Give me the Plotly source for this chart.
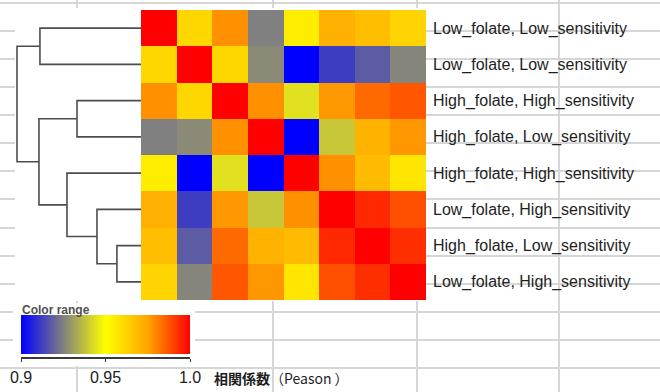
import plotly.graph_objects as go

W, H = 660, 392

# Row / column order of the clustered correlation matrix (top to bottom)
row_labels = [
    "Low_folate, Low_sensitivity",
    "Low_folate, Low_sensitivity",
    "High_folate, High_sensitivity",
    "High_folate, Low_sensitivity",
    "High_folate, High_sensitivity",
    "Low_folate, High_sensitivity",
    "High_folate, Low_sensitivity",
    "Low_folate, High_sensitivity",
]

# Pearson correlation between samples
corr = [
    [1.000, 0.961, 0.978, 0.925, 0.955, 0.972, 0.968, 0.962],
    [0.961, 1.000, 0.961, 0.927, 0.900, 0.912, 0.918, 0.926],
    [0.978, 0.961, 1.000, 0.978, 0.944, 0.977, 0.984, 0.987],
    [0.925, 0.927, 0.978, 1.000, 0.900, 0.939, 0.971, 0.977],
    [0.955, 0.900, 0.944, 0.900, 1.000, 0.978, 0.969, 0.957],
    [0.972, 0.912, 0.977, 0.939, 0.978, 1.000, 0.994, 0.988],
    [0.968, 0.918, 0.984, 0.971, 0.969, 0.994, 1.000, 0.993],
    [0.962, 0.926, 0.987, 0.977, 0.957, 0.988, 0.993, 1.000],
]

# Agglomerative merges: (left id, right id, height); new clusters get ids 8, 9, ...
merges = [
    (0, 1, 0.815),
    (2, 3, 0.516),
    (6, 7, 0.194),
    (5, 10, 0.355),
    (4, 11, 0.597),
    (9, 12, 0.823),
    (8, 13, 1.000),
]

scale_min, scale_max = 0.9, 1.0
scale_ticks = [0.9, 0.95, 1.0]
scale_ticktext = ["0.9", "0.95", "1.0"]

colorscale = [
    [0.00, "rgb(0,0,255)"],
    [0.25, "rgb(128,128,128)"],
    [0.50, "rgb(255,255,0)"],
    [0.75, "rgb(255,165,0)"],
    [1.00, "rgb(255,0,0)"],
]


def px(x):
    return x / W


def py(y):
    return 1 - y / H


n = len(row_labels)

# Dendrogram line segments (U shapes) from the merge list
pos = {i: float(i) for i in range(n)}
hgt = {i: 0.0 for i in range(n)}
dx, dy = [], []
for k, (a, b, h) in enumerate(merges):
    cid = n + k
    dx += [hgt[a], h, h, hgt[b], None]
    dy += [pos[a], pos[a], pos[b], pos[b], None]
    pos[cid] = (pos[a] + pos[b]) / 2
    hgt[cid] = h

fig = go.Figure()

fig.add_trace(go.Heatmap(
    z=corr,
    x=list(range(n)),
    y=list(range(n)),
    zmin=scale_min, zmax=scale_max,
    colorscale=colorscale,
    xaxis="x", yaxis="y",
    hoverinfo="skip",
    colorbar=dict(
        orientation="h",
        x=px(21), xanchor="left",
        y=py(315), yanchor="top",
        lenmode="pixels", len=169,
        thicknessmode="pixels", thickness=39,
        xpad=0, ypad=0,
        outlinewidth=0,
        showticklabels=False, ticks="",
        bgcolor="rgba(0,0,0,0)",
    ),
))

fig.add_trace(go.Scatter(
    x=dx, y=dy, mode="lines",
    line=dict(color="#4d4d4d", width=1.6),
    xaxis="x2", yaxis="y2",
    hoverinfo="skip", showlegend=False,
))

# invisible points that carry the colour-scale axis
fig.add_trace(go.Scatter(
    x=scale_ticks, y=[0] * len(scale_ticks), mode="markers",
    marker=dict(opacity=0),
    xaxis="x3", yaxis="y3",
    hoverinfo="skip", showlegend=False,
))

# spreadsheet-style background grid
grid_rows = [3, 31, 59, 87, 115, 143, 171, 199, 228, 256, 284, 312, 340, 368]
grid_cols = [77, 273, 417, 559]
shapes = []
for y in grid_rows:
    shapes.append(dict(type="line", xref="paper", yref="paper",
                       x0=0, x1=1, y0=py(y), y1=py(y),
                       line=dict(color="#d6d6d6", width=2), layer="below"))
for x in grid_cols:
    shapes.append(dict(type="line", xref="paper", yref="paper",
                       x0=px(x), x1=px(x), y0=0, y1=1,
                       line=dict(color="#d6d6d6", width=2), layer="below"))
# white panels behind the dendrogram/heatmap and the colour key
for (x0, y0, x1, y1) in [(15, 8, 426, 301), (13, 303, 195, 366)]:
    shapes.append(dict(type="rect", xref="paper", yref="paper",
                       x0=px(x0), x1=px(x1), y0=py(y1), y1=py(y0),
                       fillcolor="white", line=dict(width=0), layer="below"))

hm_y = [py(300), py(10)]

fig.update_layout(
    width=W, height=H,
    margin=dict(l=0, r=0, t=0, b=0, pad=0, autoexpand=False),
    paper_bgcolor="white",
    plot_bgcolor="rgba(0,0,0,0)",
    showlegend=False,
    shapes=shapes,
    font=dict(family="Liberation Sans, Arial, sans-serif", color="#222"),
    xaxis=dict(domain=[px(141), px(426)], range=[-0.5, n - 0.5],
               visible=False, fixedrange=True),
    yaxis=dict(domain=hm_y, range=[n - 0.5, -0.5], side="right",
               anchor="x", showgrid=False, zeroline=False, showline=False,
               ticks="", tickvals=list(range(n)), ticktext=row_labels,
               tickfont=dict(size=16, color="#1e1e1e"),
               ticklabelstandoff=6, fixedrange=True),
    xaxis2=dict(domain=[px(15), px(141)], range=[(141 - 15) / 124, 0],
                anchor="y2", visible=False, fixedrange=True),
    yaxis2=dict(domain=hm_y, range=[n - 0.5, -0.5], anchor="x2",
                visible=False, fixedrange=True),
    xaxis3=dict(domain=[px(21), px(190)], range=[scale_min, scale_max],
                anchor="y3", showline=True, linecolor="#3a3a3a", linewidth=1.5,
                ticks="outside", ticklen=3, tickwidth=1.2, tickcolor="#3a3a3a",
                tickvals=scale_ticks, ticktext=scale_ticktext,
                tickfont=dict(size=16, color="#222"),
                ticklabelstandoff=2,
                showgrid=False, zeroline=False, fixedrange=True),
    yaxis3=dict(domain=[py(357), py(350)], anchor="x3", visible=False,
                fixedrange=True),
    annotations=[
        dict(text="<b>Color range</b>", xref="paper", yref="paper",
             x=px(20), y=py(310), xanchor="left", yanchor="middle",
             showarrow=False, font=dict(size=12, color="#505050")),
        dict(text="<b>相関係数</b>（Peason ）", xref="paper", yref="paper",
             x=px(212), y=py(378), xanchor="left", yanchor="middle",
             showarrow=False,
             font=dict(size=14, color="#1e1e1e",
                       family="Noto Sans CJK JP, Liberation Sans, sans-serif")),
    ],
)

fig.write_html("out.html")
